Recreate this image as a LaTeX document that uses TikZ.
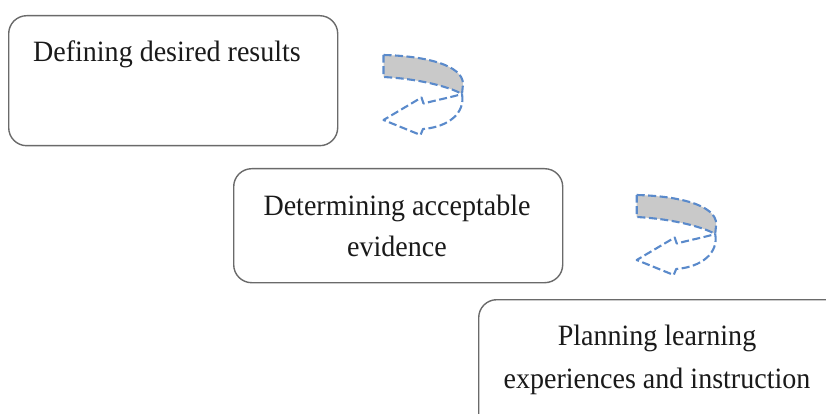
\documentclass[tikz,border=0pt]{standalone}
\usepackage{fontspec}
\setmainfont{Liberation Serif}[FakeStretch=0.95]
\definecolor{boxgray}{HTML}{6A6A6A}
\definecolor{ribbonblue}{HTML}{5A8ACB}
\definecolor{ribbonfill}{HTML}{C9C9C9}
\definecolor{inkblack}{HTML}{1A1A1A}
\begin{document}
\begin{tikzpicture}[x=1pt,y=-1pt,
  stage/.style={draw=boxgray, line width=1.4pt, rounded corners=18pt, fill=white, anchor=north west},
  caption/.style={anchor=base, inner sep=0pt, text=inkblack, font=\fontsize{29.5}{42}\selectfont},
  ribbon/.style={draw=ribbonblue, line width=2.1pt, dash pattern=on 8pt off 3.5pt, line join=round},
  ribbonarrow/.pic={
    % front face of the curved band
    \path[ribbon, fill=ribbonfill]
      (0,0) .. controls (41.5,1) and (79.5,10) .. (79.5,29)
      -- (78.5,39) .. controls (66,32) and (37,24) .. (0,22) -- cycle;
    % returning shaft and arrow head
    \path[ribbon]
      (78.5,39) .. controls (82,58) and (65,72) .. (39.5,74)
      -- (37,80) -- (0,65) -- (38,42.5) -- (40,48.5)
      .. controls (53.5,45) and (68.5,42) .. (78.5,39);
  }]
\useasboundingbox (0,0) rectangle (826,414);
\clip (0,0) rectangle (826,414);

% stage boxes
\node[stage, minimum width=329pt, minimum height=130pt] (defining) at (8,15) {};
\node[stage, minimum width=329pt, minimum height=114pt] (evidence) at (233,168) {};
\node[stage, minimum width=380pt, minimum height=150pt] (planning) at (478,299) {};

% captions
\node[caption] (defining-l1) at (167,62) {Defining desired results};
\node[caption] (evidence-l1) at (397,215) {Determining acceptable};
\node[caption] (evidence-l2) at (397,256.5) {evidence};
\node[caption] (planning-l1) at (657,345.5) {Planning learning};
\node[caption] (planning-l2) at (657,388) {experiences and instruction};

% curved transition arrows
\pic (turnA) at (383.5,55) {ribbonarrow};
\pic (turnB) at (636.7,195) {ribbonarrow};
\end{tikzpicture}
\end{document}
